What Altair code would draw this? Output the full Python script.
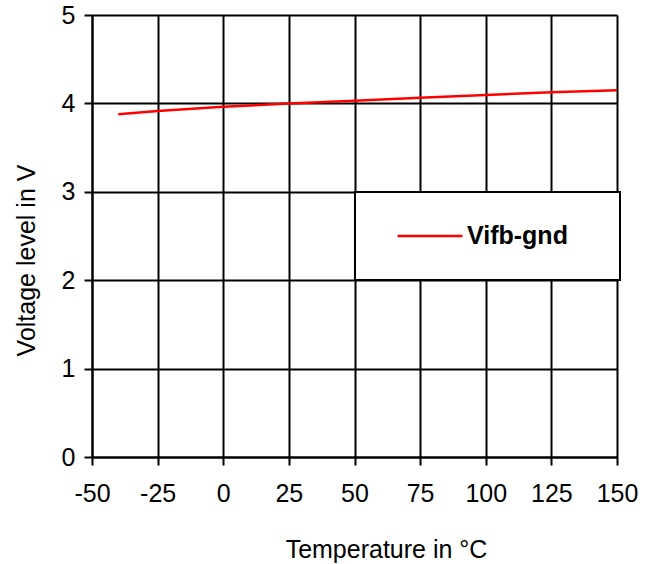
import altair as alt
import pandas as pd

temps = [-40, -25, 0, 25, 50, 75, 100, 125, 150]
volts = [3.877, 3.914, 3.963, 3.998, 4.030, 4.064, 4.095, 4.125, 4.150]
series = "Vifb-gnd"
x_ticks = [-50, -25, 0, 25, 50, 75, 100, 125, 150]
y_ticks = [0, 1, 2, 3, 4, 5]

df = pd.DataFrame({"T": temps, "V": volts, "s": [series] * len(temps)})

FONT = "Liberation Sans"

line = alt.Chart(df).mark_line(strokeWidth=2.5, clip=True).encode(
    x=alt.X("T:Q",
            scale=alt.Scale(domain=[-50, 150], nice=False, zero=False),
            axis=alt.Axis(values=x_ticks, title="Temperature in °C",
                          labelExpr="replace(datum.label, '\u2212', '-')",
                          labelPadding=16, titleX=294, titleY=100,
                          titleBaseline="alphabetic", titleAlign="center",
                          titleAnchor="middle")),
    y=alt.Y("V:Q",
            scale=alt.Scale(domain=[0, 5], nice=False),
            axis=alt.Axis(values=y_ticks, title="Voltage level in V",
                          labelPadding=9, titleX=-58, titleY=245,
                          titleBaseline="alphabetic", titleAlign="center",
                          titleAnchor="middle", titleAngle=-90)),
    color=alt.Color("s:N",
                    scale=alt.Scale(domain=[series], range=["#ff0000"]),
                    legend=alt.Legend(orient="none", legendX=263, legendY=177,
                                      title=".", titleOrient="right",
                                      titleOpacity=0, titleFontSize=10,
                                      titlePadding=18,
                                      fillColor="white",
                                      strokeColor="black", padding=31,
                                      symbolType="stroke", symbolSize=4225,
                                      symbolStrokeWidth=2.5, symbolOffset=10,
                                      labelOffset=3, labelFontSize=25,
                                      labelFontWeight="bold", labelFont=FONT,
                                      labelColor="black", clipHeight=26)),
)

chart = line.properties(
    width=525, height=442,
    autosize=alt.AutoSizeParams(type="none"),
    padding={"left": 92, "top": 15, "right": 39, "bottom": 107},
    background="white",
).configure_view(stroke=None).configure_axis(
    grid=True, gridColor="black", gridWidth=2, gridOpacity=1,
    domainColor="black", domainWidth=2,
    tickColor="black", tickWidth=2, tickSize=8,
    labelFont=FONT, labelFontSize=25, labelColor="black",
    titleFont=FONT, titleFontSize=25, titleColor="black",
    titleFontWeight="normal", labelFlush=False, labelOverlap=False,
).configure_legend(strokeWidth=2)

chart.save("out.html", embed_options={"renderer": "svg", "actions": False})
